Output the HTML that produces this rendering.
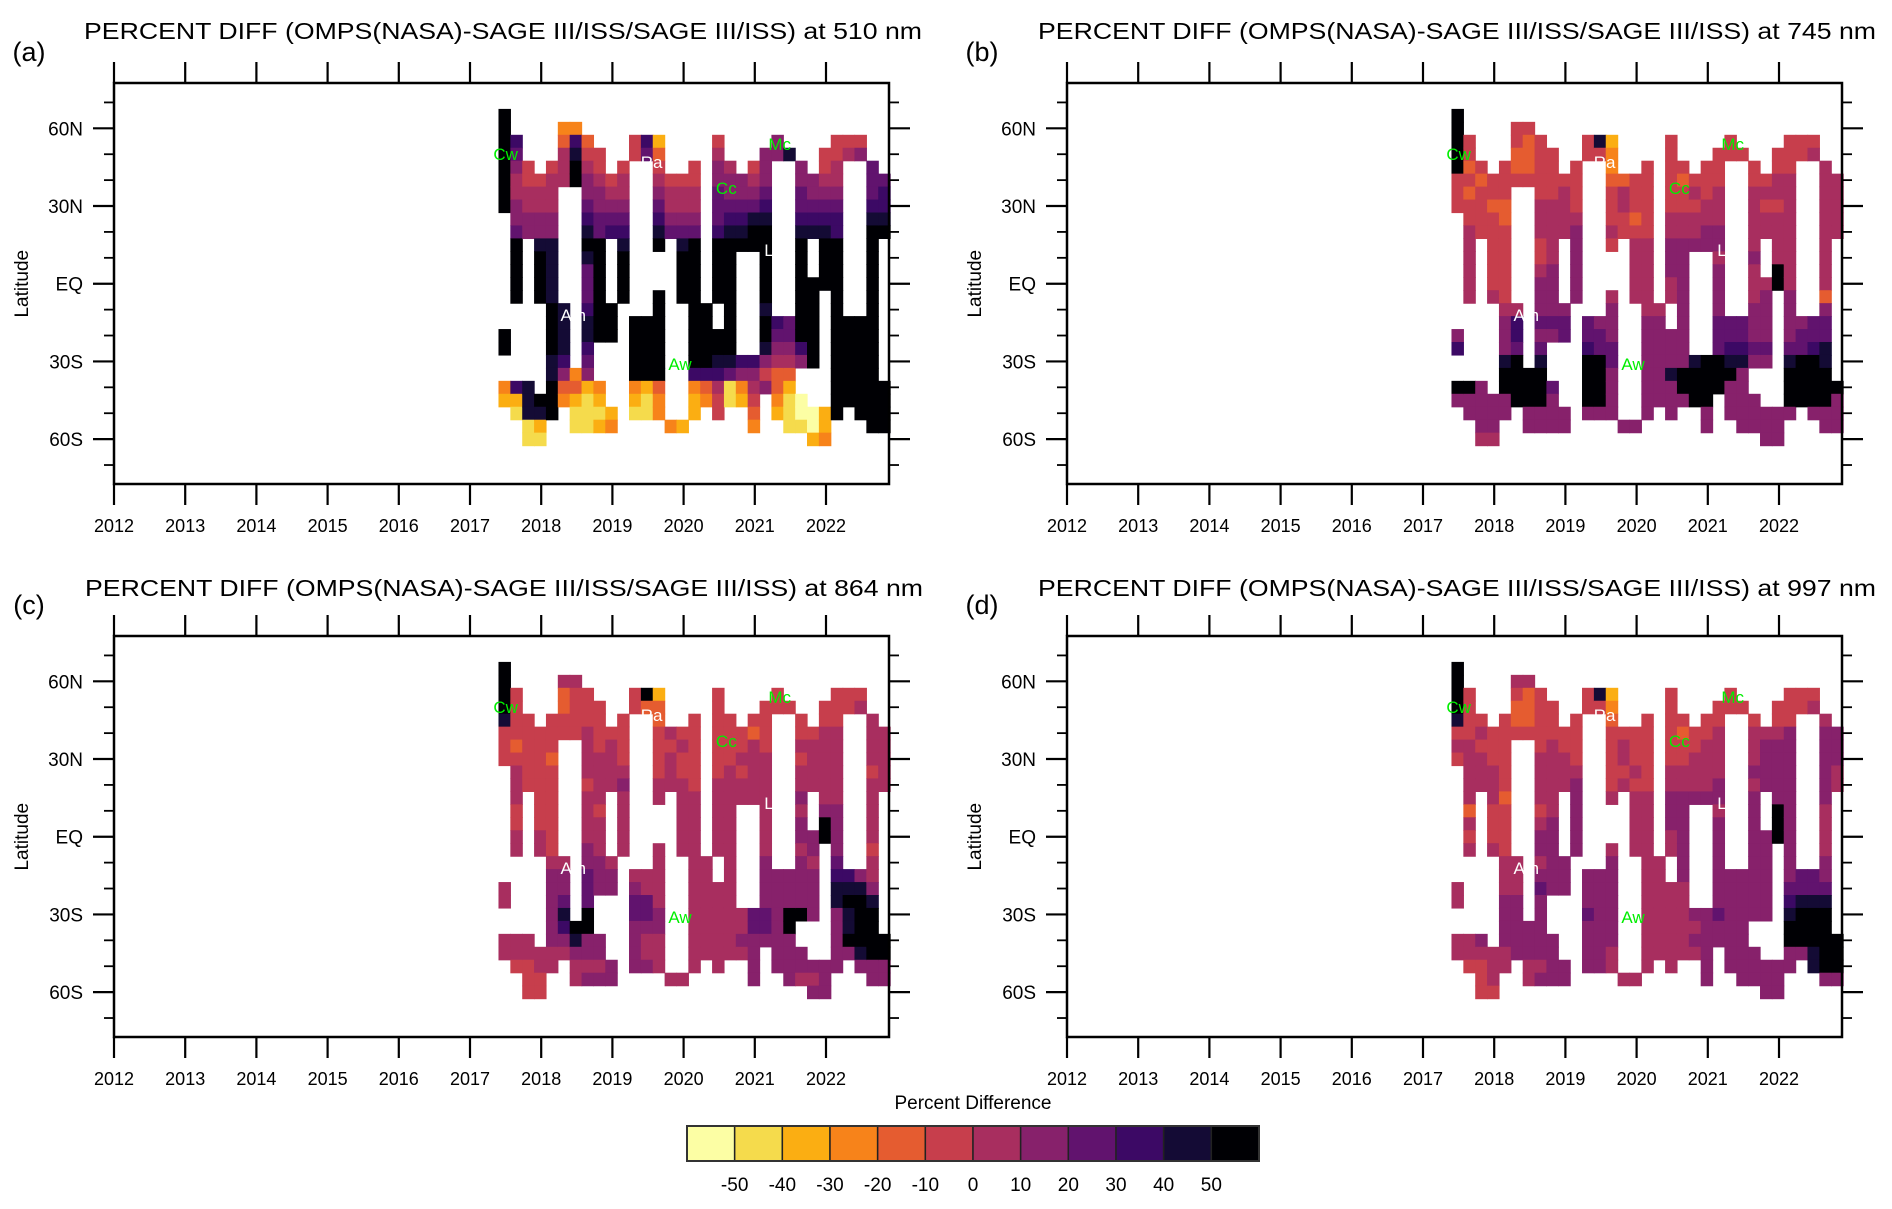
<!DOCTYPE html>
<html><head><meta charset="utf-8"><style>
html,body{margin:0;padding:0;background:#fff;}
svg{display:block;font-family:"Liberation Sans",Arial,sans-serif;}
</style></head><body>
<svg id="chart" width="1892" height="1209" viewBox="0 0 1892 1209" xmlns="http://www.w3.org/2000/svg"></svg>
<script>
const yearTicks=[2012,2013,2014,2015,2016,2017,2018,2019,2020,2021,2022];
const latTicks=[60,30,0,-30,-60];
const latLabels=["60N","30N","EQ","30S","60S"];
const minorLats=[70,50,40,20,10,-10,-20,-40,-50,-70];
const levelColors=["#fcfea4","#f5db4c","#fbae12","#f7831a","#e55c30","#c73e4c","#a82e5f","#87216b","#61136e","#3c0965","#140b35","#000004"];
const levelLabels=[-50,-40,-30,-20,-10,0,10,20,30,40,50];
const gridStartYear=2017.4;
const gridColYears=1/6;
const gridTopLat=67.5;
const gridRowLat=5;
const panelTitles=["PERCENT DIFF (OMPS(NASA)-SAGE III/ISS/SAGE III/ISS) at 510 nm","PERCENT DIFF (OMPS(NASA)-SAGE III/ISS/SAGE III/ISS) at 745 nm","PERCENT DIFF (OMPS(NASA)-SAGE III/ISS/SAGE III/ISS) at 864 nm","PERCENT DIFF (OMPS(NASA)-SAGE III/ISS/SAGE III/ISS) at 997 nm"];
const panelTags=["(a)","(b)","(c)","(d)"];
// data coverage: per time column, latitude-row segments with data
const maskSegments=[
[[0,7],[17,18],[21,22]],[[2,14],[21,23]],[[4,9],[21,25]],[[5,14],[22,25]],[[4,23]],
[[1,5],[15,22]],[[1,5],[20,24]],[[2,24]],[[3,17],[21,24]],[[5,9],[15,17],[23,24]],
[[4,14]],[[2,3],[16,23]],[[2,3],[16,23]],[[2,10],[14,23]],[[5,9],[24,24]],
[[5,14],[24,24]],[[4,23]],[[15,22]],[[2,14],[17,23]],[[4,22]],
[[5,10],[19,22]],[[4,10],[19,24]],[[3,21]],[[2,3],[16,23]],[[3,3],[16,24]],
[[4,19],[22,24]],[[5,9],[13,19],[23,25]],[[3,13],[23,25]],[[2,23]],[[2,3],[16,22]],
[[2,3],[16,23]],[[4,24]],[[5,9],[21,24]]];
// level codes a..l (a = below -50, l = above 50)
const panelA=[
"lffffffffffffffffffffffffffffffff","lffffddffffffffffffffffffffffffff",
"ljfffejeffffjcfffffffffhkffffffff","liffegkfffffieffffggffhhkgfffghgf",
"lhfffglgffffffffffhggfhhhhgfghhih","lgffgglhgfgffgffffhhhghhhhhgggiii",
"lggggglhhgggghggggihhhiiiihhhhiij","lhgggghihhhhhiggggiiiijjjiiiihjjj",
"lhhhhhhjiiiiijhhhhijjkkkkjjjjiikk","lihhhhhkijjjjkiiiijkklllkkkkjjkll",
"lllkkkklllkllllkllllllllllkllllll","llllkkjklllllllllllllllllllllllll",
"llllkjhilllllkllllllllllllllllll","llllkjeilllllllllllllllllllllllll",
"llllkjeilllllllllllllllkklllllllll","lllllkhjllllllllllllllkjlllllllll",
"lllllkhkllllllllllllllljillllllll","lllllkgkllllllllllllllliillllllll",
"lllllkfjllllllllllllllkhhjlllllll","lllkkjfikkllllklllkkjjhgghlllllll",
"lllkkhdhjjllllkjjjjihhfeeglllllll","djklleecdefdcefgdegbdghecbdllllll",
"ccklldcbcdfcbdffcdfbcfgdbacklllll","bbkklcbbbcfbbdffccfbbefcbaacllll",
"aabccbbbcdfbbcdcccfbbdfcbbacllll","aabbcbbbcdfbbcdcccfbbdfcbbcdllll"];
const panelB=[
"lfffffffffffffffffffffffffffffff","lfffffffffffffffffffffffffffffff",
"lfffefefffffkcfffffffffffffffffff","lffffeeffffffdffffffffffffffffggg",
"lefffeeffffffdffffffeffffffffggg","ffefffffffffeeeffffeffffgffgggggg",
"fefffffffgffffgfffffgfggggggggggg","fffeeffgggffffgffffffgggggffggggg",
"ffffeffggggffffeffggggggggggggggg","fgfffffggghgfgfffgggghhgggggggggg",
"fgffffffgghhffgggghhhhhhgggggggggg","fgffffgfghhhggggghhhhhghhhhgghggg",
"gggfffeghhhhgggggghhhhhhhgglghhgg","gggffffhhhhhggggggghhhhhhgglghhgg",
"ggggfffhhhhhhgggggghhhhhhghhhgge","ghggggjhhhhhhhggggghhhhhhhhhhhhhf",
"hhhhhjkiiiiihhhhhhhhhiiiihhhhhiie","hhhhhjihhiiiihhhhhhhhiiiihhhhiiii",
"jiihhiiiiijjiihhhhhhiiijjiiiiijkk","iiihkllkiikllihhhhhhkllkkhhhkllkl",
"iihhllllihlllhhhhhklllllhhhllllll","llhhlllliilllhhhhhhllllhhhhllllll",
"hhhhhlllhhhllhhhhhhhlllhhhhlllllh","hhhhhghhhhhhhhhhhhhhhhhhhhhhhhhhh",
"fghhgghhhhhhhhhhfhhhhhhhhhhhhgghh","fggggggghhhhhhhhfhhhhhhhhhhhhgggh"];
const panelC=[
"lggggggggggggggggggggggggggggggg","lffffggffffffffffffffffffffffffff",
"lffffefffffflcffffffffffffffffffff","lffffeffffffeeffffffffffffffffggg",
"kffffffffffffefffffffffffffffgggg","fffffffgffffffgffffffeffgffgggggg",
"feffffggfgfffffgfffffgfgfggggggggg","ffffeffgggffgfgfffffgggggfggggggg",
"fgfffffgggggffgffgfgfggggggggggfgg","fgffffffgghgggggffggggggggggggggg",
"ggfffffgggggggggggggggggghggggggg","gffffffgfgggggggggggggghhgghhhggg",
"gffffefgghgggggggggggggghhhlhgggf","ggggffggggggggggggggggggghhlhgggf",
"ggggffghggggggggggggggghgghhhggff","ggggggghhggggggggggggghhghgiighgf",
"gggghhiihhhggggggggggghhhhhhjjhgg","gggghhiihhhhggggggggghhhhhhhkkkhg",
"gggghiliihiiigggggggghhhhhhhkllkg","ggghhklliiiiihgggggggiihllhhhklll",
"gghhhjllhhhhhhgggggggiihlkhhhklll","ggghhhkhhhhhgggggggghhhhhhhhhllll",
"gggggghhhhhhggggggggghhhhhhhhhkll","fffgggggghhhhgggggghhhhhhhhhhhhhh",
"ffffggghhhhhhgggfhgghhhhhgghhhhhh","ffffffghhhhhhhhhfhhhhhhhhhhhhhhhh"];
const panelD=[
"lggggggggggggggggggggggggggggggg","lffffggffffffffffffffffffffffffff",
"lfffffefffffkcffffffffffffffffffff","lffffeeffffffdffffffffffffffffggg",
"kffffeefffffeefffffffffffffffgggg","ffgfffffffffeffffffeffgggggghhhhh",
"ggffffgfgfffffgffffffggggghhhhhhhh","fggfffggggffffgfffffgggggghhhhhhh",
"fgggffggggggfffgfgggggggghhhhhhhgg","fgggfffggghggfgfffgggghhgghhhhhhg",
"ggggefgggghhgggggghhhhhgghhhhhhhgg","geffffgfghhhggggghhhhhghhhhlhhggg",
"ggeffegghhhhgggggghhhhhhhhhlhhhgg","gffffffhhhhhggggggghhhhhhhhlhhhgg",
"ggggfffhhhhhhgggggghhhhhhhhhhhhgg","gggggggghhhhhhggggghhhhhhhhhhhhhg",
"ggfgggghhhhhhhggggghhhhhhhhhhiihg","gffggggihhhhhhgggggghhhhhhhhiiiih",
"gfgghhihhhhhhhgggggghhhhhhhhjkkkh","ggghhhhhhhiihhgggggghhihhhhhklllh",
"gghhhhhhhhihhhggggggghhhhhhhllllh","gghhhhhhhhhhhhgggggghhhhhhhhlllll",
"ggggghhhhhhhhgggggggghhhhhhhhhklll","fffggggghhhhhggggggghhhhhhhhhhkll",
"fffgggghhhhhhgggghhhhhhhhhhhhhhhh","fffffgghhhhhhhhhhhhhhhhhhhhhhhhhh"];
const panelGrids=[panelA,panelB,panelC,panelD];
const markerNames=["Cw","Ra","Cc","Mc","L","Am","Aw"];
const markerYears=[2017.5,2019.55,2020.6,2021.35,2021.2,2018.45,2019.95];
const markerLats=[50,47,37,54,13,-12,-31];
const markerGreen=[true,false,true,true,false,false,true];

const NS="http://www.w3.org/2000/svg";
const svg=document.getElementById('chart');
function mk(tag,attrs,parent){const e=document.createElementNS(NS,tag);for(const k in attrs)e.setAttribute(k,attrs[k]);(parent||svg).appendChild(e);return e;}
const panelOrigins=[[114,83],[1067,83],[114,636],[1067,636]];
const titleBoxes=[[84,39],[1038,39],[85,596],[1038,596]];
const PW=775,PH=401,YRPX=71.2,LATPX=2.59;

panelOrigins.forEach((o,pi)=>{
  const L=o[0],T=o[1];
  const g=mk('g',{});
  
  
  const xOf=y=>L+(y-2012)*YRPX;
  const yOf=lat=>T+(77.5-lat)*LATPX;
  const grid=panelGrids[pi];
  const cg=mk('g',{},g);
  
  
  maskSegments.forEach((segs,c)=>{
    segs.forEach(s=>{
      for(let r=s[0];r<=s[1];r++){
        const row=grid[r]||"";
        const ch=row[c]||row[row.length-1]||'g';
        const lv=Math.max(0,Math.min(11,ch.charCodeAt(0)-97));
        const x0=xOf(gridStartYear+c*gridColYears),x1=xOf(gridStartYear+(c+1)*gridColYears);
        const y0=yOf(gridTopLat-r*gridRowLat),y1=yOf(gridTopLat-(r+1)*gridRowLat);
        const rc=mk('rect',{x:x0.toFixed(2),y:y0.toFixed(2),width:(x1-x0+0.6).toFixed(2),height:(y1-y0+0.6).toFixed(2),fill:levelColors[lv]},cg);
        
        
      }
    });
  });
  markerNames.forEach((n,i)=>{
    const t=mk('text',{x:xOf(markerYears[i]),y:yOf(markerLats[i])+6,'font-size':17,'text-anchor':'middle',fill:markerGreen[i]?'#00ee00':'#ffffff'},g);
    t.textContent=n;
    
    
  });
  const fr=mk('rect',{x:L,y:T,width:PW,height:PH,fill:'none',stroke:'#000','stroke-width':2.5},g);
  
  
  yearTicks.forEach(yr=>{
    const x=xOf(yr);
    mk('line',{x1:x,y1:T-21,x2:x,y2:T,stroke:'#000','stroke-width':2.2},g);
    mk('line',{x1:x,y1:T+PH,x2:x,y2:T+PH+21,stroke:'#000','stroke-width':2.2},g);
    const t=mk('text',{x:x,y:T+PH+48,'font-size':18,'text-anchor':'middle',fill:'#000'},g);
    t.textContent=yr;
    
    
  });
  latTicks.forEach((lat,i)=>{
    const y=yOf(lat);
    mk('line',{x1:L-21,y1:y,x2:L,y2:y,stroke:'#000','stroke-width':2.2},g);
    mk('line',{x1:L+PW,y1:y,x2:L+PW+21,y2:y,stroke:'#000','stroke-width':2.2},g);
    const t=mk('text',{x:L-31,y:y+7,'font-size':19,'text-anchor':'end',fill:'#000'},g);
    t.textContent=latLabels[i];
    
    
  });
  minorLats.forEach(lat=>{
    const y=yOf(lat);
    mk('line',{x1:L-10,y1:y,x2:L,y2:y,stroke:'#000','stroke-width':1.8},g);
    mk('line',{x1:L+PW,y1:y,x2:L+PW+10,y2:y,stroke:'#000','stroke-width':1.8},g);
  });
  const yl=mk('text',{x:0,y:0,'font-size':19,'text-anchor':'middle',transform:`translate(${L-86},${yOf(0)}) rotate(-90)`,fill:'#000'},g);
  yl.textContent='Latitude';
  
  
  const tb=titleBoxes[pi];
  const tt=mk('text',{x:tb[0],y:tb[1],'font-size':23,textLength:838,lengthAdjust:'spacingAndGlyphs',fill:'#000'},g);
  tt.textContent=panelTitles[pi];
  
  
  const tg=mk('text',{x:L-85,y:T-22,'font-size':27,'text-anchor':'middle',fill:'#000'},g);
  tg.textContent=panelTags[pi];
  
  
});

// colorbar
const cb=mk('g',{});


const CBX=687,CBY=1126,CBW=572,CBH=35,bw=CBW/levelColors.length;
levelColors.forEach((c,i)=>{
  const r=mk('rect',{x:CBX+i*bw,y:CBY,width:bw,height:CBH,fill:c,stroke:'#222','stroke-width':1.5},cb);
  
  
});
mk('rect',{x:CBX,y:CBY,width:CBW,height:CBH,fill:'none',stroke:'#333','stroke-width':2},cb);
levelLabels.forEach((v,i)=>{
  const t=mk('text',{x:CBX+(i+1)*bw,y:1191,'font-size':19,'text-anchor':'middle',fill:'#000'},cb);
  t.textContent=v;
  
  
});
const pd=mk('text',{x:973,y:1109,'font-size':19,'text-anchor':'middle',fill:'#000'},cb);
pd.textContent='Percent Difference';


</script>
</body></html>
